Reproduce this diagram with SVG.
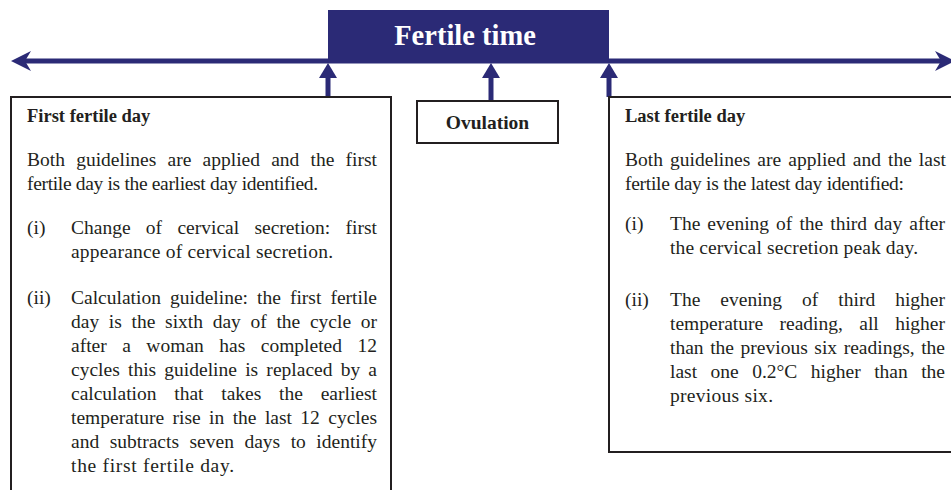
<svg xmlns="http://www.w3.org/2000/svg" width="951" height="490" viewBox="0 0 951 490">
<style>
.box{fill:#fff;stroke:#231f20;stroke-width:2}
.navy{fill:#2b2a76}
.line{stroke:#2b2a76;stroke-width:5;fill:none}
text{font-family:"Liberation Serif","Times New Roman",serif;fill:#231f20}
.b{font-size:19.5px}
.h{font-size:18.5px;font-weight:bold}
</style>
<defs>
<polygon id="upHead" points="0,0 -9,15 9,15" class="navy"/>
</defs>
<rect width="951" height="490" fill="#fff"/>
<g id="connectors">
<line class="line" x1="22" y1="61" x2="942" y2="61"/>
<polygon class="navy" points="11,61 31,51 25,61 31,71"/>
<polygon class="navy" points="955,61 935,51 941,61 935,71"/>
<line class="line" x1="328" y1="74" x2="328" y2="97"/>
<use href="#upHead" x="328" y="63"/>
<line class="line" x1="491" y1="74" x2="491" y2="101"/>
<use href="#upHead" x="491" y="63"/>
<line class="line" x1="609" y1="74" x2="609" y2="97"/>
<use href="#upHead" x="609" y="63"/>
</g>
<g id="fertile-time">
<rect class="navy" x="328" y="10" width="281" height="52"/>
<text x="465" y="45" text-anchor="middle" style="font-size:28.5px;font-weight:bold;fill:#fff">Fertile time</text>
</g>
<g id="ovulation">
<rect class="box" x="417" y="101" width="141" height="42"/>
<text x="487.5" y="129" text-anchor="middle" style="font-size:19.5px;font-weight:bold">Ovulation</text>
</g>
<g id="first-fertile-day">
<rect class="box" x="11" y="97" width="380" height="410"/>
<text class="h" x="27" y="122">First fertile day</text>
<g class="b">
<text x="27" y="166" word-spacing="6.3" textLength="350" lengthAdjust="spacing">Both guidelines are applied and the first</text>
<text x="27" y="190" textLength="291" lengthAdjust="spacing">fertile day is the earliest day identified.</text>
<text x="27" y="234">(i)</text>
<text x="71" y="234" word-spacing="10.4" textLength="306" lengthAdjust="spacing">Change of cervical secretion: first</text>
<text x="71" y="258" textLength="262" lengthAdjust="spacing">appearance of cervical secretion.</text>
<text x="27" y="304">(ii)</text>
<text x="71" y="304" word-spacing="4.2" textLength="306" lengthAdjust="spacing">Calculation guideline: the first fertile</text>
<text x="71" y="328" word-spacing="4.8" textLength="306" lengthAdjust="spacing">day is the sixth day of the cycle or</text>
<text x="71" y="352" word-spacing="10.6" textLength="306" lengthAdjust="spacing">after a woman has completed 12</text>
<text x="71" y="376" word-spacing="3.3" textLength="306" lengthAdjust="spacing">cycles this guideline is replaced by a</text>
<text x="71" y="400" word-spacing="12.9" textLength="306" lengthAdjust="spacing">calculation that takes the earliest</text>
<text x="71" y="424" word-spacing="3.5" textLength="306" lengthAdjust="spacing">temperature rise in the last 12 cycles</text>
<text x="71" y="448" word-spacing="5.6" textLength="306" lengthAdjust="spacing">and subtracts seven days to identify</text>
<text x="71" y="472" textLength="163" lengthAdjust="spacing">the first fertile day.</text>
</g>
</g>
<g id="last-fertile-day">
<rect class="box" x="609" y="97" width="360" height="355"/>
<text class="h" x="625" y="122">Last fertile day</text>
<g class="b">
<text x="625" y="166" word-spacing="2.1" textLength="321" lengthAdjust="spacing">Both guidelines are applied and the last</text>
<text x="625" y="190" textLength="279" lengthAdjust="spacing">fertile day is the latest day identified:</text>
<text x="625" y="230">(i)</text>
<text x="670" y="230" word-spacing="2.2" textLength="275" lengthAdjust="spacing">The evening of the third day after</text>
<text x="670" y="254" textLength="248" lengthAdjust="spacing">the cervical secretion peak day.</text>
<text x="625" y="306">(ii)</text>
<text x="670" y="306" word-spacing="15.1" textLength="275" lengthAdjust="spacing">The evening of third higher</text>
<text x="670" y="330" word-spacing="11.5" textLength="275" lengthAdjust="spacing">temperature reading, all higher</text>
<text x="670" y="354" word-spacing="1.7" textLength="275" lengthAdjust="spacing">than the previous six readings, the</text>
<text x="670" y="378" word-spacing="8.6" textLength="275" lengthAdjust="spacing">last one 0.2°C higher than the</text>
<text x="670" y="402" textLength="103" lengthAdjust="spacing">previous six.</text>
</g>
</g>
</svg>
